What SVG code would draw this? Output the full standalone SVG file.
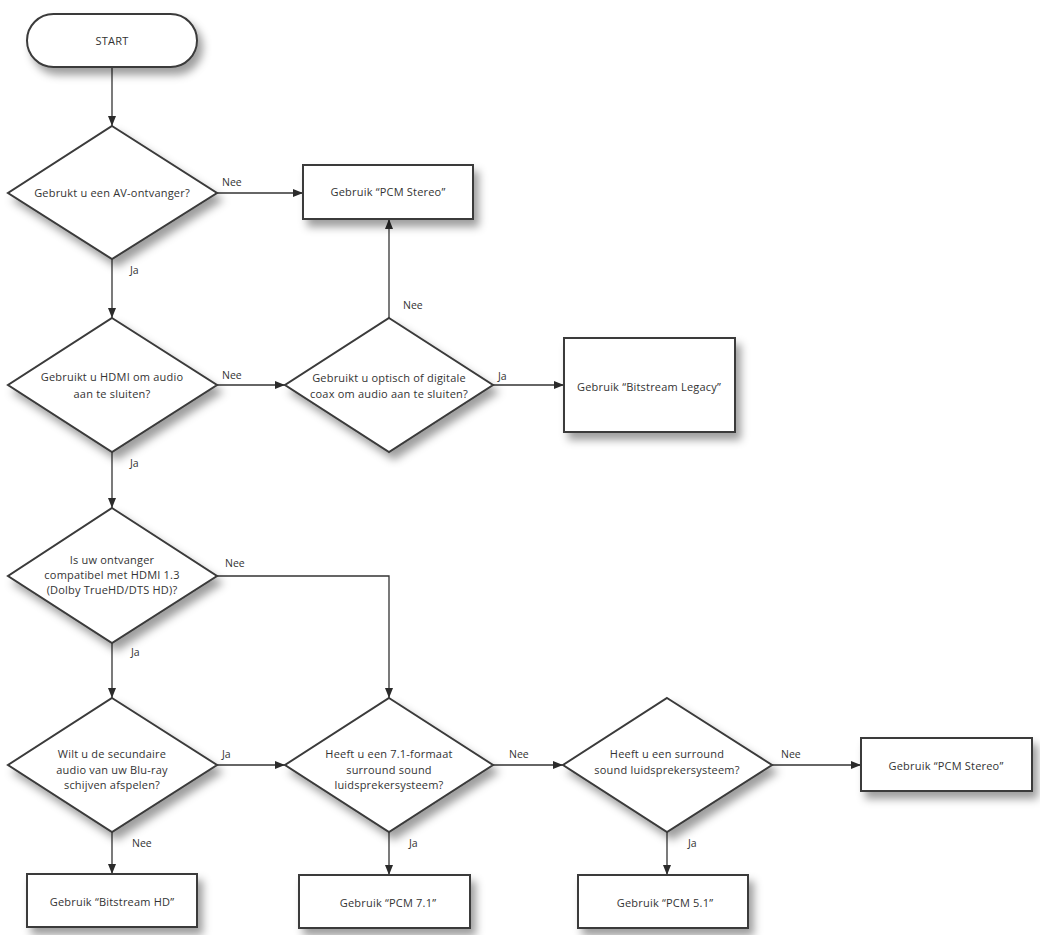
<svg xmlns="http://www.w3.org/2000/svg" width="1040" height="935" viewBox="0 0 1040 935">
<defs>
<filter id="sh" x="-20%" y="-20%" width="150%" height="160%">
<feDropShadow dx="5" dy="7" stdDeviation="4" flood-color="#000" flood-opacity="0.38"/>
</filter>
<marker id="ah" markerWidth="10" markerHeight="8" refX="10" refY="4" orient="auto" markerUnits="userSpaceOnUse">
<path d="M0,0 L10,4 L0,8 Z" fill="#2b2b2b"/>
</marker>
</defs>
<style>
.n{fill:#fff;stroke:#3a3a3a;stroke-width:2;filter:url(#sh)}
.t{font-family:"Open Sans","Liberation Sans",sans-serif;font-size:11px;letter-spacing:0.2px;fill:#333;text-anchor:middle}
.l{font-family:"Open Sans","Liberation Sans",sans-serif;font-size:10.5px;fill:#333}
.c{fill:none;stroke:#333;stroke-width:1.3;marker-end:url(#ah)}
</style>
<rect width="1040" height="935" fill="#fff"/>
<g id="connectors">
<path class="c" d="M112,67 V126"/>
<path class="c" d="M217,193 H303"/>
<path class="c" d="M112,259 V318"/>
<path class="c" d="M217,385 H285"/>
<path class="c" d="M389,318 V219"/>
<path class="c" d="M493,385 H564"/>
<path class="c" d="M112,452 V508"/>
<path class="c" d="M217,576 H389 V698"/>
<path class="c" d="M112,643 V698"/>
<path class="c" d="M217,765 H285"/>
<path class="c" d="M112,832 V874"/>
<path class="c" d="M389,832 V875"/>
<path class="c" d="M493,765 H563"/>
<path class="c" d="M667,832 V875"/>
<path class="c" d="M772,765 H861"/>
<text class="l" x="222" y="186">Nee</text>
<text class="l" x="130" y="274">Ja</text>
<text class="l" x="222" y="379">Nee</text>
<text class="l" x="403" y="309">Nee</text>
<text class="l" x="498" y="380">Ja</text>
<text class="l" x="130" y="467">Ja</text>
<text class="l" x="225" y="567">Nee</text>
<text class="l" x="131" y="656">Ja</text>
<text class="l" x="222" y="758">Ja</text>
<text class="l" x="132" y="847">Nee</text>
<text class="l" x="409" y="847">Ja</text>
<text class="l" x="509" y="758">Nee</text>
<text class="l" x="688" y="847">Ja</text>
<text class="l" x="781" y="758">Nee</text>
</g>
<g id="start">
<rect class="n" x="27" y="14" width="170" height="53" rx="26.5"/>
<text class="t" x="112" y="45">START</text>
</g>
<g id="q-av">
<polygon class="n" points="112,126 217,193 112,259 8,193"/>
<text class="t" x="112" y="197">Gebrukt u een AV-ontvanger?</text>
</g>
<g id="pcm-stereo-1">
<rect class="n" x="303" y="165" width="170" height="54"/>
<text class="t" x="388" y="196">Gebruik “PCM Stereo”</text>
</g>
<g id="q-hdmi">
<polygon class="n" points="112,318 217,385 112,452 8,385"/>
<text class="t" x="112" y="381">Gebruikt u HDMI om audio</text>
<text class="t" x="112" y="398">aan te sluiten?</text>
</g>
<g id="q-optical">
<polygon class="n" points="389,318 493,385 389,452 285,385"/>
<text class="t" x="389" y="382">Gebruikt u optisch of digitale</text>
<text class="t" x="389" y="398">coax om audio aan te sluiten?</text>
</g>
<g id="bitstream-legacy">
<rect class="n" x="564" y="338" width="171" height="94"/>
<text class="t" x="649" y="391">Gebruik “Bitstream Legacy”</text>
</g>
<g id="q-hdmi13">
<polygon class="n" points="112,508 217,576 112,643 8,576"/>
<text class="t" x="112" y="564">Is uw ontvanger</text>
<text class="t" x="112" y="579">compatibel met HDMI 1.3</text>
<text class="t" x="112" y="594">(Dolby TrueHD/DTS HD)?</text>
</g>
<g id="q-secondary">
<polygon class="n" points="112,698 217,765 112,832 8,765"/>
<text class="t" x="112" y="758">Wilt u de secundaire</text>
<text class="t" x="112" y="774">audio van uw Blu-ray</text>
<text class="t" x="112" y="789">schijven afspelen?</text>
</g>
<g id="q-71">
<polygon class="n" points="389,698 493,765 389,832 285,765"/>
<text class="t" x="389" y="758">Heeft u een 7.1-formaat</text>
<text class="t" x="389" y="774">surround sound</text>
<text class="t" x="389" y="789">luidsprekersysteem?</text>
</g>
<g id="q-surround">
<polygon class="n" points="667,698 772,765 667,832 563,765"/>
<text class="t" x="667" y="758">Heeft u een surround</text>
<text class="t" x="667" y="774">sound luidsprekersysteem?</text>
</g>
<g id="pcm-stereo-2">
<rect class="n" x="861" y="738" width="171" height="53"/>
<text class="t" x="946" y="770">Gebruik “PCM Stereo”</text>
</g>
<g id="bitstream-hd">
<rect class="n" x="27" y="874" width="170" height="53"/>
<text class="t" x="112" y="906">Gebruik “Bitstream HD”</text>
</g>
<g id="pcm-71">
<rect class="n" x="299" y="875" width="171" height="53"/>
<text class="t" x="388" y="907">Gebruik “PCM 7.1”</text>
</g>
<g id="pcm-51">
<rect class="n" x="578" y="875" width="170" height="53"/>
<text class="t" x="665" y="907">Gebruik “PCM 5.1”</text>
</g>
</svg>
